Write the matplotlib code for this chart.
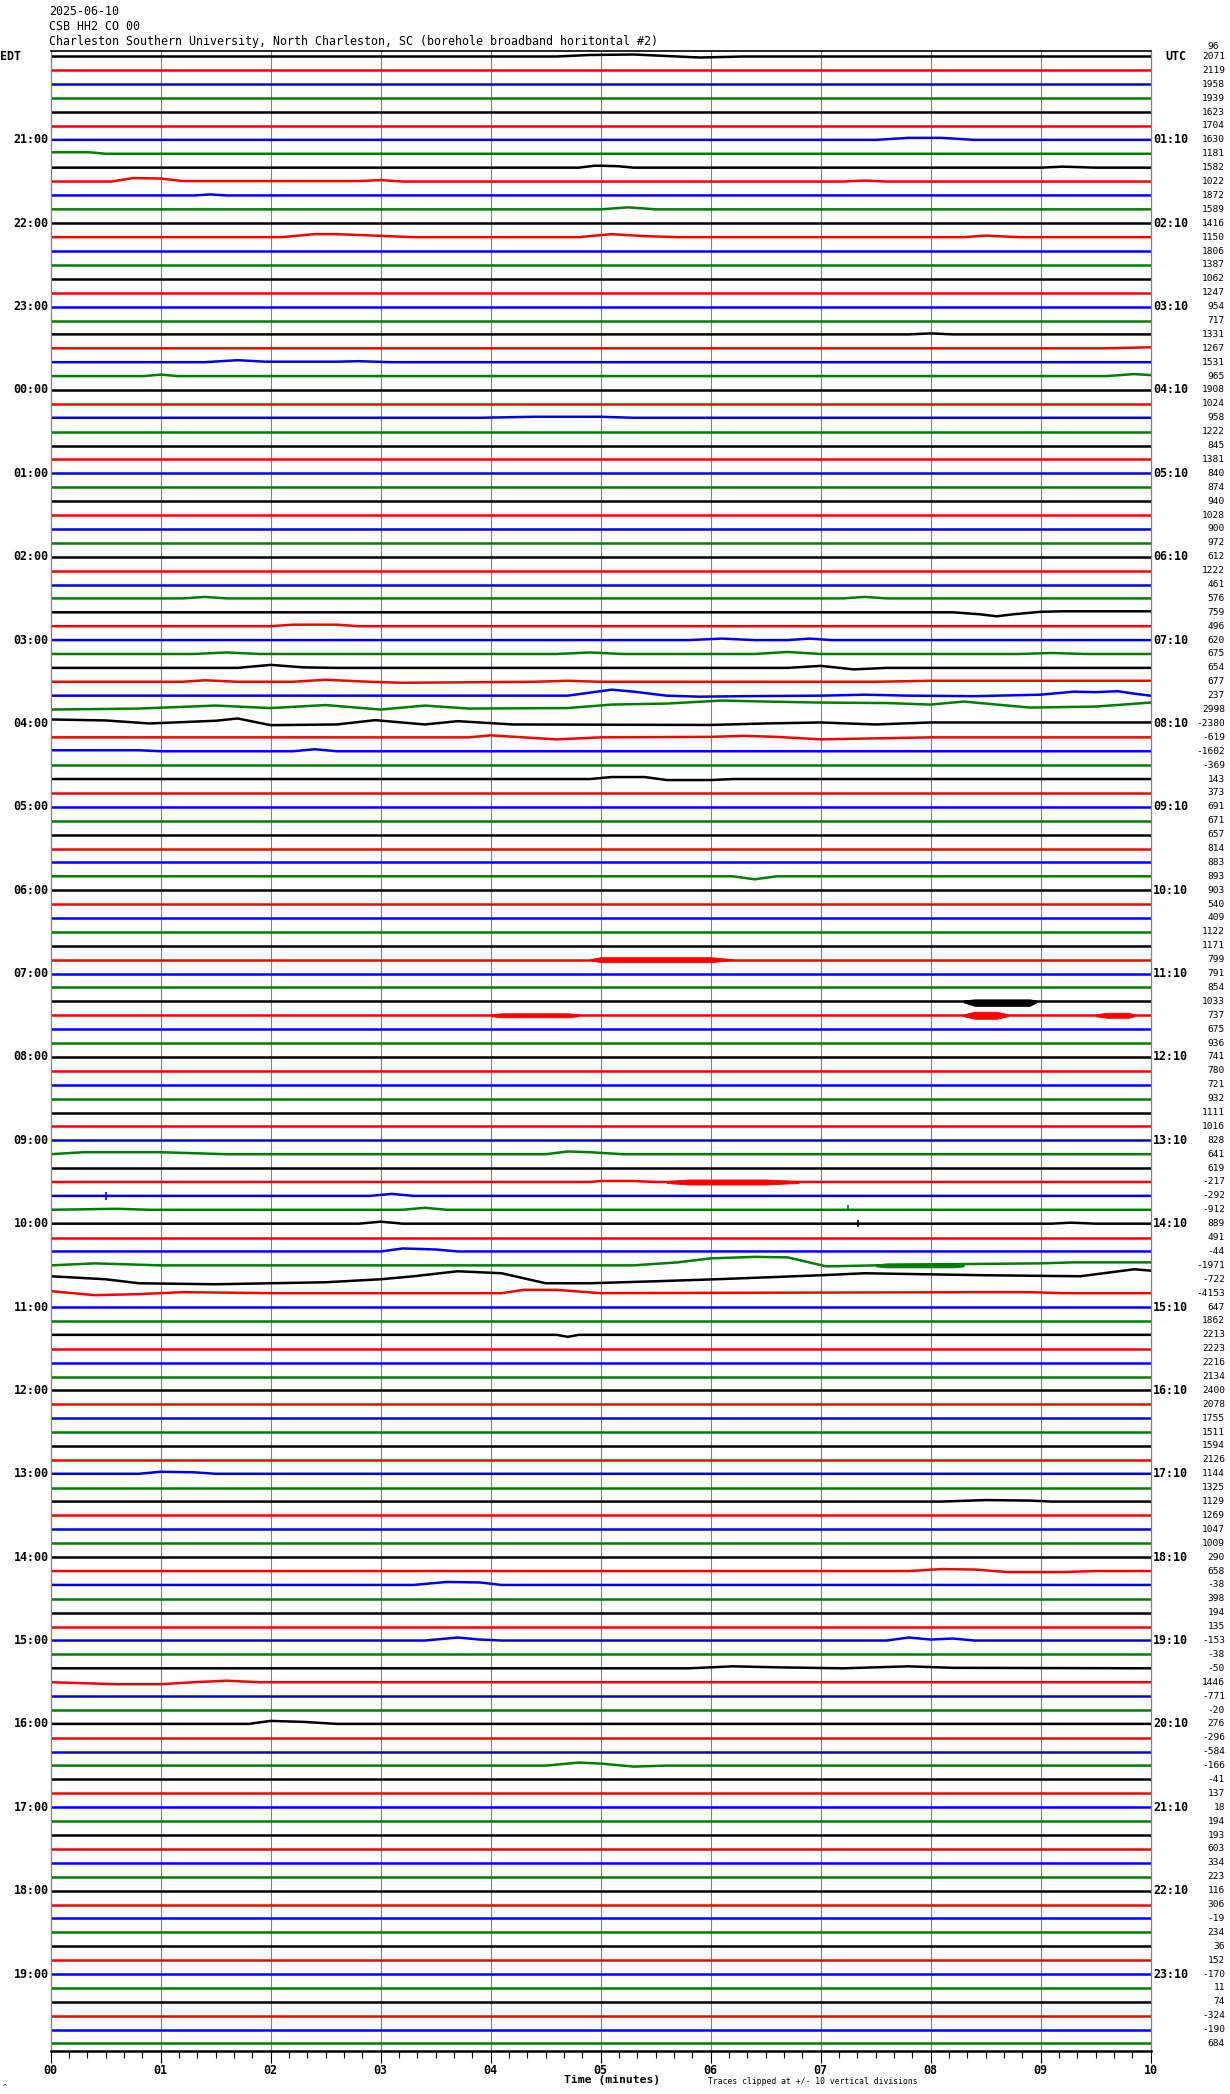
import numpy as np
import matplotlib
matplotlib.use("Agg")
import matplotlib.pyplot as plt
from matplotlib.ticker import MultipleLocator

W, H = 1230, 2094
ROW_PX = 13.895          # vertical distance between traces (pixels)

title_lines = ["2025-06-10", "CSB HH2 CO 00",
               "Charleston Southern University, North Charleston, SC (borehole broadband horitontal #2)"]
edt_labels = ["21:00", "22:00", "23:00", "00:00", "01:00", "02:00", "03:00", "04:00",
              "05:00", "06:00", "07:00", "08:00", "09:00", "10:00", "11:00", "12:00",
              "13:00", "14:00", "15:00", "16:00", "17:00", "18:00", "19:00"]
utc_labels = ["01:10", "02:10", "03:10", "04:10", "05:10", "06:10", "07:10", "08:10",
              "09:10", "10:10", "11:10", "12:10", "13:10", "14:10", "15:10", "16:10",
              "17:10", "18:10", "19:10", "20:10", "21:10", "22:10", "23:10"]
row_values = [2071, 2119, 1958, 1939, 1623, 1704, 1630, 1181, 1582, 1022, 1872, 1589,
              1416, 1150, 1806, 1387, 1062, 1247, 954, 717, 1331, 1267, 1531, 965,
              1908, 1024, 958, 1222, 845, 1381, 840, 874, 940, 1028, 900, 972,
              612, 1222, 461, 576, 759, 496, 620, 675, 654, 677, 237, 2998,
              -2380, -619, -1602, -369, 143, 373, 691, 671, 657, 814, 883, 893,
              903, 540, 409, 1122, 1171, 799, 791, 854, 1033, 737, 675, 936,
              741, 780, 721, 932, 1111, 1016, 828, 641, 619, -217, -292, -912,
              889, 491, -44, -1971, -722, -4153, 647, 1862, 2213, 2223, 2216, 2134,
              2400, 2078, 1755, 1511, 1594, 2126, 1144, 1325, 1129, 1269, 1047, 1009,
              290, 658, -38, 398, 194, 135, -153, -38, -50, 1446, -771, -20,
              276, -296, -584, -166, -41, 137, 18, 194, 193, 603, 334, 223,
              116, 306, -19, 234, 36, 152, -170, 11, 74, -324, -190, 684]
minute_labels = ["00", "01", "02", "03", "04", "05", "06", "07", "08", "09", "10"]
trace_colors = ["black", "red", "blue", "#008000"]

# slow wander of individual traces: row -> (minute, deflection in pixels, up positive)
swells = {
    0: [(0, 0), (4.6, 0), (4.9, 1.5), (5.3, 2), (5.6, 0.5), (5.9, -1), (6.3, 0), (10, 0)],
    6: [(0, 0), (7.5, 0), (7.8, 2), (8.1, 2), (8.4, 0), (10, 0)],
    7: [(0, 1.5), (0.35, 1.5), (0.5, 0), (10, 0)],
    8: [(0, 0), (4.8, 0), (4.95, 2), (5.15, 1.5), (5.3, 0), (9.0, 0), (9.2, 1), (9.5, 0), (10, 0)],
    9: [(0, 0), (0.55, 0), (0.75, 3.5), (1.0, 3), (1.2, 0.5), (2.8, 0.5), (3.0, 1.5), (3.2, 0),
        (7.2, 0), (7.4, 1), (7.6, 0), (10, 0)],
    10: [(0, 0), (1.3, 0), (1.45, 1), (1.6, 0), (10, 0)],
    11: [(0, 0), (5.0, 0), (5.25, 2), (5.5, 0), (10, 0)],
    13: [(0, 0), (2.1, 0), (2.4, 3), (2.6, 3), (3.3, 0), (4.8, 0), (5.1, 3), (5.4, 1), (5.7, 0),
         (8.3, 0), (8.5, 1.5), (8.8, 0), (10, 0)],
    20: [(0, 0), (7.8, 0), (8.0, 1), (8.2, 0), (10, 0)],
    21: [(0, 0), (9.6, 0), (10, 1)],
    22: [(0, 0), (1.4, 0), (1.7, 2), (1.95, 0.5), (2.6, 0.5), (2.8, 1), (3.1, 0), (10, 0)],
    23: [(0, 0), (0.85, 0), (1.0, 1.5), (1.15, 0), (9.6, 0), (9.85, 2), (10, 1)],
    26: [(0, 0), (3.9, 0), (4.4, 1), (5.0, 1), (5.3, 0), (10, 0)],
    39: [(0, 0), (1.2, 0), (1.4, 1.5), (1.6, 0), (7.2, 0), (7.4, 1.5), (7.6, 0), (10, 0)],
    40: [(0, 0), (8.2, 0), (8.45, -2), (8.6, -4), (8.75, -2), (9.0, 0.5), (9.2, 1), (10, 1)],
    41: [(0, 0), (2.0, 0), (2.2, 1.5), (2.6, 1.5), (2.8, 0), (10, 0)],
    42: [(0, 0), (5.8, 0), (6.1, 1.5), (6.4, 0), (6.7, 0), (6.9, 1.5), (7.1, 0), (10, 0)],
    43: [(0, 0), (1.3, 0), (1.6, 1.5), (1.9, 0), (4.6, 0), (4.9, 1.5), (5.2, 0), (6.4, 0),
         (6.7, 2), (7.0, 0), (8.8, 0), (9.1, 1), (9.4, 0), (10, 0)],
    44: [(0, 0), (1.7, 0), (2.0, 3), (2.3, 0.5), (2.6, 0), (6.7, 0), (7.0, 2), (7.3, -1.5),
         (7.6, 0), (10, 0)],
    45: [(0, 0), (1.2, 0), (1.4, 1.5), (1.7, 0), (2.2, 0), (2.5, 2), (2.9, 0), (3.2, -1),
         (3.8, -0.5), (4.4, 0), (4.7, 1), (5.0, 0), (7.5, 0), (8.0, 1), (10, 1)],
    46: [(0, 0), (4.7, 0), (4.9, 3), (5.1, 6), (5.3, 4), (5.6, 0), (5.9, -1), (6.3, -0.5),
         (7.0, 0), (7.4, 1), (7.8, 0), (8.4, -0.5), (9.0, 1), (9.3, 4), (9.5, 3.5), (9.7, 4.5),
         (9.85, 2), (10, 0)],
    47: [(0, 0), (0.8, 1), (1.5, 4), (2.0, 1.5), (2.5, 4.5), (3.0, 0), (3.4, 4), (3.8, 1),
         (4.7, 1.5), (5.1, 5), (5.6, 6), (6.1, 9), (6.5, 8), (7.0, 7), (7.6, 6.5), (8.0, 5),
         (8.3, 8), (8.9, 2), (9.5, 3), (10, 7)],
    48: [(0, 4), (0.5, 3), (0.9, 0), (1.5, 2.7), (1.7, 5), (2.0, -1.7), (2.6, -1), (2.95, 3.3),
         (3.4, -1), (3.7, 2.3), (4.2, -1), (6.0, -1.5), (6.5, 0), (7.0, 1), (7.5, -1), (8.0, 1),
         (10, 1)],
    49: [(0, 0), (3.8, 0), (4.0, 2), (4.3, 0), (4.6, -2), (5.0, 0), (6.0, 0.5), (6.3, 1.5),
         (6.6, 0.5), (7.0, -2), (7.5, -1), (8.0, 0), (10, 0)],
    50: [(0, 1), (0.8, 1), (1.0, 0), (2.2, 0), (2.4, 2), (2.6, 0), (10, 0)],
    52: [(0, 0), (4.9, 0), (5.1, 2), (5.4, 2), (5.6, -1), (6.0, -1), (6.2, 0), (10, 0)],
    59: [(0, 0), (6.2, 0), (6.4, -3), (6.6, 0), (10, 0)],
    79: [(0, 0), (0.3, 2), (1.0, 2), (1.6, 0), (4.5, 0), (4.7, 2.7), (4.9, 2), (5.2, 0), (10, 0)],
    81: [(0, 0), (4.9, 0), (5.0, 1), (5.3, 1), (5.5, 0), (10, 0)],
    82: [(0, 0), (2.9, 0), (3.1, 2), (3.3, 0), (10, 0)],
    83: [(0, 0), (0.6, 1), (0.9, 0), (3.2, 0), (3.4, 2), (3.6, 0), (10, 0)],
    84: [(0, 0), (2.8, 0), (3.0, 2), (3.2, 0), (9.1, 0), (9.27, 1), (9.5, 0), (10, 0)],
    86: [(0, 0), (3.0, 0), (3.2, 3), (3.5, 2), (3.7, 0), (10, 0)],
    87: [(0, 0), (0.4, 2), (1.0, 0), (5.3, 0), (5.7, 3), (6.0, 7), (6.4, 8.5), (6.7, 8),
         (7.05, -1), (7.5, 0), (8.0, 1), (8.5, 1.5), (9.0, 2), (9.3, 3), (10, 3)],
    88: [(0, 3), (0.5, 0), (0.8, -4), (1.5, -5), (2.0, -4), (2.5, -3), (3.0, 0), (3.3, 3),
         (3.7, 8), (4.1, 6), (4.5, -4), (4.9, -4), (5.5, -2), (6.05, 0), (7.0, 4), (7.4, 6),
         (8.5, 4), (9.36, 3), (9.85, 10), (10, 8.6)],
    89: [(0, 2), (0.4, -2), (0.8, -1), (1.2, 1), (2.0, 0), (4.1, 0), (4.3, 3.3), (4.6, 3.3),
         (5.0, 0), (8.5, 1), (8.9, 1), (9.2, 0), (10, 0)],
    92: [(0, 0), (4.6, 0), (4.7, -2), (4.8, 0), (10, 0)],
    102: [(0, 0), (0.8, 0), (1.0, 2), (1.3, 1.5), (1.5, 0), (10, 0)],
    104: [(0, 0), (8.1, 0), (8.5, 1.5), (8.9, 1), (9.1, 0), (10, 0)],
    109: [(0, 0), (7.8, 0), (8.1, 2), (8.4, 1.5), (8.7, -1), (9.2, -1), (9.5, 0), (10, 0)],
    110: [(0, 0), (3.3, 0), (3.6, 3), (3.9, 2.5), (4.1, 0), (10, 0)],
    114: [(0, 0), (3.4, 0), (3.7, 3), (3.9, 1), (4.1, 0), (7.6, 0), (7.8, 3), (8.0, 1),
          (8.2, 2), (8.4, 0), (10, 0)],
    116: [(0, 0), (5.8, 0), (6.2, 2), (6.6, 1), (7.2, 0), (7.8, 2), (8.2, 0.5), (10, 0)],
    117: [(0, 0), (0.3, -1), (0.6, -2), (1.0, -2), (1.3, 0), (1.6, 1.5), (1.9, 0), (10, 0)],
    120: [(0, 0), (1.8, 0), (2.0, 3), (2.3, 2), (2.6, 0), (10, 0)],
    123: [(0, 0), (4.5, 0), (4.8, 3), (5.0, 2), (5.3, -1), (5.6, 0), (10, 0)],
}
# dense high frequency bursts: row, minutes, upward and downward envelope (pixels)
bursts = [
    (65, [4.9, 5.0, 5.5, 6.0, 6.2], [0.5, 2.5, 2.5, 2.5, 0.5], [0.5, 2.5, 2.5, 2.5, 0.5]),
    (68, [8.3, 8.4, 8.9, 8.96], [1, 2, 2, 1], [1, 4.5, 4.5, 1]),
    (69, [4.0, 4.1, 4.7, 4.8], [1, 2, 2, 1], [1, 2, 2, 1]),
    (69, [8.3, 8.4, 8.6, 8.7], [1, 3.5, 3.5, 1], [1, 3.5, 3.5, 1]),
    (69, [9.5, 9.6, 9.8, 9.85], [1, 2.5, 2.5, 1], [1, 2.5, 2.5, 1]),
    (81, [5.6, 5.8, 6.5, 6.8], [1, 2.5, 2.5, 1], [1, 2.5, 2.5, 1]),
    (87, [7.5, 7.6, 8.2, 8.3], [1, 2, 2, 1], [1, 2, 2, 1]),
]
# short spikes: row, minute, up, down (pixels)
spikes = [(82, 0.5, 4, 4), (83, 7.25, 5, 1), (84, 7.34, 4, 3)]

n_rows = len(row_values)
fig = plt.figure(figsize=(W / 100, H / 100), dpi=100)
top_px, bot_px, left_px, right_px = 50.7, 2050.6, 50.7, 1150.7
first_row_px = 56.5
ax = fig.add_axes([left_px / W, 1 - bot_px / H, (right_px - left_px) / W, (bot_px - top_px) / H])
ax.set_xlim(0, 10)
ax.set_ylim((bot_px - first_row_px) / ROW_PX, -(first_row_px - top_px) / ROW_PX)

for m in range(1, 10):
    ax.axvline(m, color="#808080", lw=0.8, zorder=1)

for r in range(n_rows):
    col = trace_colors[r % 4]
    pts = swells.get(r, [(0, 0), (10, 0)])
    t = [p[0] for p in pts]
    d = np.array([p[1] for p in pts], dtype=float)
    ax.plot(t, r - d / ROW_PX, color=col, lw=1.8, zorder=2)

for r, t, up, dn in bursts:
    ax.fill_between(t, r - np.array(up) / ROW_PX, r + np.array(dn) / ROW_PX,
                    color=trace_colors[r % 4], lw=0.6, zorder=3)
for r, t, up, dn in spikes:
    ax.vlines(t, r - up / ROW_PX, r + dn / ROW_PX, color=trace_colors[r % 4], lw=1.2, zorder=3)

for side in ["left", "right"]:
    ax.spines[side].set_color("#808080")
    ax.spines[side].set_linewidth(0.9)
ax.spines["top"].set_linewidth(1.2)
ax.spines["bottom"].set_linewidth(1.8)

ax.set_yticks([])
ax.set_xticks(range(11))
ax.set_xticklabels(minute_labels, fontfamily="DejaVu Sans Mono", fontweight="bold", fontsize=8.4)
ax.xaxis.set_minor_locator(MultipleLocator(1 / 6))
ax.tick_params(axis="x", which="major", length=8.4, width=0.8, pad=1, direction="out")
ax.tick_params(axis="x", which="minor", length=4.8, width=0.8, direction="out")


def ftext(x, y, s, **kw):
    kw.setdefault("fontfamily", "DejaVu Sans Mono")
    fig.text(x / W, 1 - y / H, s, va="center", **kw)


for i, s in enumerate(title_lines):
    ftext(49, 11.7 + 15 * i, s, fontsize=8.4)

ftext(0, first_row_px, "EDT", fontsize=8.4, fontweight="bold", ha="left")
ftext(1165, first_row_px, "UTC", fontsize=8.4, fontweight="bold", ha="left")
for i, (el, ul) in enumerate(zip(edt_labels, utc_labels)):
    y = first_row_px + (6 * (i + 1)) * ROW_PX
    ftext(48.5, y, el, fontsize=8.4, fontweight="bold", ha="right")
    ftext(1153, y, ul, fontsize=8.4, fontweight="bold", ha="left")

for r, v in enumerate(row_values):
    ftext(1225, first_row_px + r * ROW_PX, str(v), fontsize=6.8, ha="right")
ftext(1207, 46.5, "96", fontsize=6.8, ha="left")

ftext(612, 2080, "Time (minutes)", fontsize=8.2, fontweight="bold", ha="center")
ftext(708, 2081, "Traces clipped at +/- 10 vertical divisions", fontsize=5.8, ha="left")
ftext(3, 2087, "^", fontsize=5, ha="left")

fig.savefig("out.png", dpi=100)
